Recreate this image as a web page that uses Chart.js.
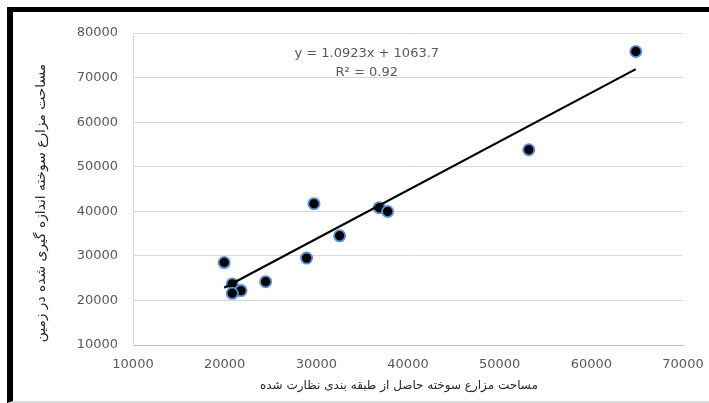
<!DOCTYPE html>
<html>
<head>
<meta charset="utf-8">
<script src="https://cdn.jsdelivr.net/npm/chart.js@4"></script>
<style>
  html, body { margin: 0; padding: 0; background: #fff; }
  #wrap { position: relative; width: 709px; height: 403px; }
  #frame {
    position: absolute; left: 7px; top: 7px; right: 0; bottom: 0;
    border-top: 5px solid #000; border-left: 6px solid #000; border-bottom: 2px solid #d9d9d9;
    pointer-events: none;
  }
</style>
</head>
<body>
<div id="wrap">
  <canvas id="chart" width="709" height="403"></canvas>
  <div id="frame"></div>
</div>
<script>
'use strict';

const areaClassified = [19950, 20830, 21780, 20830, 24470, 28940, 32540, 29740, 36860, 37780, 53180, 64850];
const areaMeasured = [28500, 23700, 22200, 21600, 24200, 29500, 34500, 41700, 40800, 39950, 53800, 75850];

// trendline end points
const trendX = [19950, 64850];
const trendY = [22850, 71900];

const xTicks = [10000, 20000, 30000, 40000, 50000, 60000, 70000];
const yTicks = [10000, 20000, 30000, 40000, 50000, 60000, 70000, 80000];

const equationText = ['y = 1.0923x + 1063.7', 'R\u00b2 = 0.92'];
const xTitle = 'مساحت مزارع سوخته حاصل از طبقه بندی نظارت شده';
const yTitle = 'مساحت مزارع سوخته اندازه گیری شده در زمین';

let canvasElem = document.getElementById('chart');

// equation + axis titles
const extraText = {
    id: 'extraText',
    afterDraw(chart) {
        const ctx = chart.ctx;
        const x = chart.scales.x.getPixelForValue(35500);
        const y = chart.scales.y.getPixelForValue(75300);
        ctx.save();
        ctx.fillStyle = '#595959';
        ctx.font = '13px "DejaVu Sans"';
        ctx.textAlign = 'center';
        ctx.textBaseline = 'middle';
        ctx.fillText(equationText[0], x, y);
        ctx.fillText(equationText[1], x, y + 19);

        ctx.fillStyle = '#262626';
        ctx.font = '12px "DejaVu Sans"';
        ctx.fillText(xTitle, 399, 386);

        ctx.translate(41, 203);
        ctx.rotate(-Math.PI / 2);
        ctx.font = '13.8px "DejaVu Sans"';
        ctx.fillText(yTitle, 0, 0);
        ctx.restore();
    }
};

function renderChart() {
    let points = [];
    for (let i = 0; i < areaClassified.length; i++) {
        points.push({ x: areaClassified[i], y: areaMeasured[i] });
    }
    let trend = [];
    for (let i = 0; i < trendX.length; i++) {
        trend.push({ x: trendX[i], y: trendY[i] });
    }
    const plain = (v) => String(v);
    const chartConfig = {
        type: 'scatter',
        data: {
            datasets: [{
                type: 'line',
                data: trend,
                borderColor: '#000',
                borderWidth: 2.2,
                pointRadius: 0,
                order: 0,
            },
            {
                data: points,
                backgroundColor: '#000',
                borderColor: '#5b8fd3',
                borderWidth: 1.8,
                pointRadius: 5.6,
                order: 1,
            }]
        },
        options: {
            responsive: false,
            animation: false,
            layout: { padding: { left: 0, right: 26, top: 33, bottom: 0 } },
            plugins: {
                legend: { display: false },
                tooltip: { enabled: false },
            },
            scales: {
                x: {
                    type: 'linear',
                    min: 10000,
                    max: 70000,
                    afterBuildTicks: (scale) => { scale.ticks = xTicks.map(v => ({ value: v })); },
                    afterFit: (scale) => {
                        scale.height = 58;
                        scale.paddingLeft = 0;
                        scale.paddingRight = 0;
                    },
                    grid: { display: false, drawTicks: false },
                    border: { display: true, color: '#bfbfbf', width: 1 },
                    ticks: {
                        color: '#595959',
                        font: { family: 'DejaVu Sans', size: 13 },
                        padding: 12,
                        maxRotation: 0,
                        callback: plain,
                    },
                },
                y: {
                    min: 10000,
                    max: 80000,
                    afterBuildTicks: (scale) => { scale.ticks = yTicks.map(v => ({ value: v })); },
                    afterFit: (scale) => { scale.width = 133; },
                    grid: { color: '#d9d9d9', drawTicks: false },
                    border: { display: true, color: '#d9d9d9', width: 1 },
                    ticks: {
                        color: '#595959',
                        font: { family: 'DejaVu Sans', size: 13 },
                        padding: 15,
                        callback: plain,
                    },
                },
            }
        },
        plugins: [extraText]
    };
    new Chart(canvasElem, chartConfig);
}

renderChart();
</script>
</body>
</html>
